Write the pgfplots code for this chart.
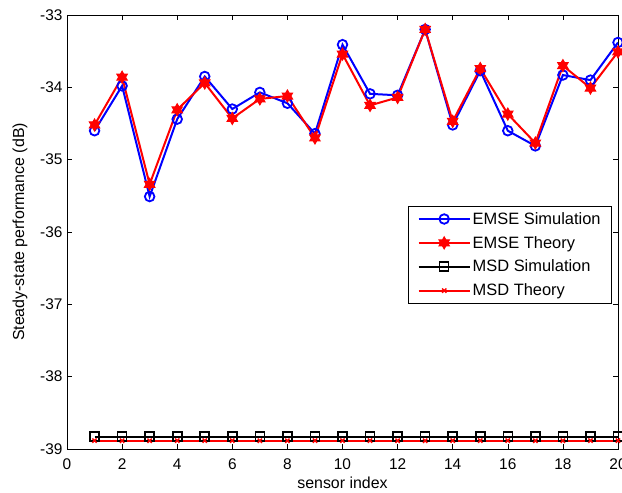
\documentclass[border=0pt]{standalone}
\usepackage{fontspec}
\setmainfont{Liberation Sans}
\usepackage{pgfplots}
\pgfplotsset{compat=1.18}
\usetikzlibrary{plotmarks}
\pgfdeclareplotmark{hexagram}{%
  \pgfpathmoveto{\pgfpointpolar{90}{\pgfplotmarksize}}%
  \pgfpathlineto{\pgfpointpolar{120}{0.577\pgfplotmarksize}}%
  \pgfpathlineto{\pgfpointpolar{150}{\pgfplotmarksize}}%
  \pgfpathlineto{\pgfpointpolar{180}{0.577\pgfplotmarksize}}%
  \pgfpathlineto{\pgfpointpolar{210}{\pgfplotmarksize}}%
  \pgfpathlineto{\pgfpointpolar{240}{0.577\pgfplotmarksize}}%
  \pgfpathlineto{\pgfpointpolar{270}{\pgfplotmarksize}}%
  \pgfpathlineto{\pgfpointpolar{300}{0.577\pgfplotmarksize}}%
  \pgfpathlineto{\pgfpointpolar{330}{\pgfplotmarksize}}%
  \pgfpathlineto{\pgfpointpolar{0}{0.577\pgfplotmarksize}}%
  \pgfpathlineto{\pgfpointpolar{30}{\pgfplotmarksize}}%
  \pgfpathlineto{\pgfpointpolar{60}{0.577\pgfplotmarksize}}%
  \pgfpathclose
  \pgfusepathqfillstroke}
\definecolor{mblue}{RGB}{0,0,255}
\definecolor{mred}{RGB}{255,0,0}
\begin{document}
\begin{tikzpicture}
\begin{axis}[
  scale only axis,
  width=551bp, height=434bp,
  xmin=0, xmax=20, ymin=-39, ymax=-33,
  xtick={0,2,...,20}, ytick={-39,-38,...,-33},
  tick align=inside,
  major tick length=5bp,
  axis line style={line width=0.9bp},
  every tick/.style={black, line width=0.6bp},
  /pgf/number format/assume math mode=true,
  tick label style={font=\fontsize{15.5}{18}\selectfont},
  xticklabel style={yshift=-6bp},
  yticklabel style={xshift=-1bp},
  label style={font=\fontsize{16}{19}\selectfont},
  xlabel={sensor index},
  ylabel={Steady-state performance (dB)},
  xlabel style={yshift=-1bp},
  ylabel style={yshift=6bp},
  legend style={at={(0.989,0.56)}, anchor=north east, draw=black, line width=0.7bp,
    font=\fontsize{16.5}{19}\selectfont, inner xsep=9bp, inner ysep=4bp, row sep=6.5bp,
    legend cell align=left},
  legend image code/.code={%
    \draw[mark repeat=2,mark phase=2,#1] plot coordinates {(0cm,0cm) (0.9cm,0cm) (1.8cm,0cm)};},
]
\addplot[mblue, line width=2bp, mark=o, mark size=4.8bp, mark options={line width=1.8bp}]
coordinates {(1,-34.60) (2,-33.98) (3,-35.51) (4,-34.44) (5,-33.85) (6,-34.30) (7,-34.07) (8,-34.22) (9,-34.64) (10,-33.41)
(11,-34.09) (12,-34.11) (13,-33.20) (14,-34.52) (15,-33.77) (16,-34.60) (17,-34.81) (18,-33.83) (19,-33.90) (20,-33.38)};
\addlegendentry{EMSE Simulation}
\addplot[mred, line width=2bp, mark=hexagram, mark size=6bp, mark options={line width=1bp, fill=mred}]
coordinates {(1,-34.52) (2,-33.86) (3,-35.34) (4,-34.31) (5,-33.94) (6,-34.43) (7,-34.16) (8,-34.12) (9,-34.70) (10,-33.54)
(11,-34.25) (12,-34.14) (13,-33.20) (14,-34.47) (15,-33.74) (16,-34.37) (17,-34.77) (18,-33.70) (19,-34.01) (20,-33.51)};
\addlegendentry{EMSE Theory}
\addplot[black, line width=2bp, mark=square, mark size=4.5bp, mark options={line width=1.6bp}]
coordinates {(1,-38.83) (2,-38.83) (3,-38.83) (4,-38.83) (5,-38.83) (6,-38.83) (7,-38.83) (8,-38.83) (9,-38.83) (10,-38.83)
(11,-38.83) (12,-38.83) (13,-38.83) (14,-38.83) (15,-38.83) (16,-38.83) (17,-38.83) (18,-38.83) (19,-38.83) (20,-38.83)};
\addlegendentry{MSD Simulation}
\addplot[mred, line width=2bp, mark=x, mark size=3bp, mark options={line width=1.4bp}]
coordinates {(1,-38.885) (2,-38.885) (3,-38.885) (4,-38.885) (5,-38.885) (6,-38.885) (7,-38.885) (8,-38.885) (9,-38.885) (10,-38.885)
(11,-38.885) (12,-38.885) (13,-38.885) (14,-38.885) (15,-38.885) (16,-38.885) (17,-38.885) (18,-38.885) (19,-38.885) (20,-38.885)};
\addlegendentry{MSD Theory}
\end{axis}
\pgfresetboundingbox
\path ([shift={(-67bp,-44bp)}]current axis.south west) rectangle ([shift={(4bp,15bp)}]current axis.north east);
\end{tikzpicture}
\end{document}
